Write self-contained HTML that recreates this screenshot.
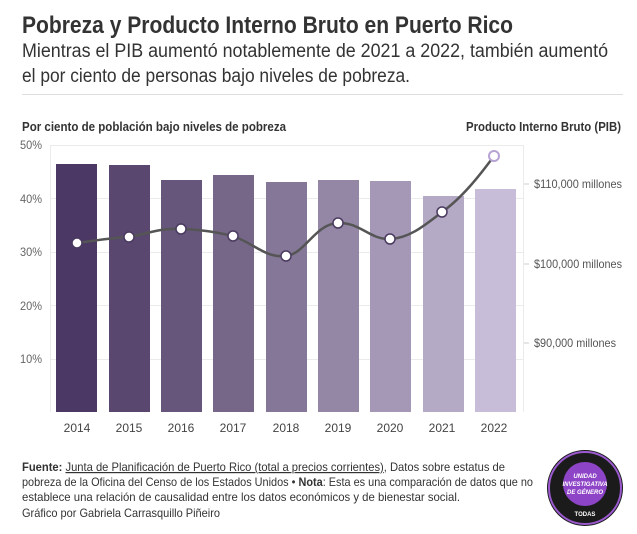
<!DOCTYPE html>
<html><head><meta charset="utf-8"><style>
html,body{margin:0;padding:0;background:#fff;}
svg{display:block;font-family:"Liberation Sans",sans-serif;}
</style></head><body>
<svg width="637" height="534" viewBox="0 0 637 534">
<text x="22" y="33" font-size="24" font-weight="bold" fill="#333" textLength="491" lengthAdjust="spacingAndGlyphs">Pobreza y Producto Interno Bruto en Puerto Rico</text>
<text x="22" y="57" font-size="19" fill="#333" textLength="586" lengthAdjust="spacingAndGlyphs">Mientras el PIB aumentó notablemente de 2021 a 2022, también aumentó</text>
<text x="22" y="82" font-size="19" fill="#333" textLength="388" lengthAdjust="spacingAndGlyphs">el por ciento de personas bajo niveles de pobreza.</text>
<line x1="22" y1="94.5" x2="623" y2="94.5" stroke="#ddd" stroke-width="1"/>
<text x="22" y="131" font-size="13" font-weight="bold" fill="#333" textLength="264" lengthAdjust="spacingAndGlyphs">Por ciento de población bajo niveles de pobreza</text>
<text x="621" y="131" font-size="13" font-weight="bold" fill="#333" text-anchor="end" textLength="155" lengthAdjust="spacingAndGlyphs">Producto Interno Bruto (PIB)</text>
<g stroke="#ebebeb" stroke-width="1">
<line x1="50" y1="145.5" x2="523" y2="145.5"/>
<line x1="50" y1="198.5" x2="523" y2="198.5"/>
<line x1="50" y1="252.5" x2="523" y2="252.5"/>
<line x1="50" y1="305.5" x2="523" y2="305.5"/>
<line x1="50" y1="359.5" x2="523" y2="359.5"/>
<line x1="50.5" y1="145" x2="50.5" y2="412"/>
<line x1="523.5" y1="145" x2="523.5" y2="412"/>
</g>
<g font-size="12" fill="#666" text-anchor="end">
<text x="42" y="149" textLength="22" lengthAdjust="spacingAndGlyphs">50%</text><text x="42" y="203" textLength="22" lengthAdjust="spacingAndGlyphs">40%</text><text x="42" y="256" textLength="22" lengthAdjust="spacingAndGlyphs">30%</text><text x="42" y="310" textLength="22" lengthAdjust="spacingAndGlyphs">20%</text><text x="42" y="363" textLength="22" lengthAdjust="spacingAndGlyphs">10%</text>
</g>
<g>
<rect x="56" y="164" width="41" height="248" fill="#4b3864"/>
<rect x="109" y="165" width="41" height="247" fill="#59476f"/>
<rect x="161" y="180" width="41" height="232" fill="#67567b"/>
<rect x="213" y="175" width="41" height="237" fill="#766789"/>
<rect x="266" y="182" width="41" height="230" fill="#857797"/>
<rect x="318" y="180" width="41" height="232" fill="#9487a6"/>
<rect x="370" y="181" width="41" height="231" fill="#a498b6"/>
<rect x="423" y="196" width="41" height="216" fill="#b5aac6"/>
<rect x="475" y="189" width="41" height="223" fill="#c7bdd9"/>
</g>
<path d="M77,243 C100,240 110,238 129,237 C150,233 160,228 181,229 C205,230 215,232 233,236 C255,244 265,258 286,256 C305,254 315,224 338,223 C360,222 370,240 390,239 C410,238 425,225 442,212 C462,198 480,175 494,156" fill="none" stroke="#555" stroke-width="2.5"/>
<g fill="#fff" stroke="#4a3a60" stroke-width="1.5">
<circle cx="77" cy="243" r="5"/><circle cx="129" cy="237" r="5"/><circle cx="181" cy="229" r="5"/><circle cx="233" cy="236" r="5"/><circle cx="286" cy="256" r="5"/><circle cx="338" cy="223" r="5"/><circle cx="390" cy="239" r="5"/><circle cx="442" cy="212" r="5"/>
</g>
<circle cx="494" cy="156" r="5" fill="#fff" stroke="#b6a3d4" stroke-width="2"/>
<g stroke="#ccc"><line x1="524" y1="184" x2="529" y2="184"/><line x1="524" y1="264" x2="529" y2="264"/><line x1="524" y1="343" x2="529" y2="343"/></g>
<g font-size="12" fill="#555">
<text x="534" y="188" textLength="88" lengthAdjust="spacingAndGlyphs">$110,000 millones</text><text x="534" y="268" textLength="88" lengthAdjust="spacingAndGlyphs">$100,000 millones</text><text x="534" y="347" textLength="82" lengthAdjust="spacingAndGlyphs">$90,000 millones</text>
</g>
<g font-size="12" fill="#444" text-anchor="middle">
<text x="77" y="432">2014</text><text x="129" y="432">2015</text><text x="181" y="432">2016</text><text x="233" y="432">2017</text><text x="286" y="432">2018</text><text x="338" y="432">2019</text><text x="390" y="432">2020</text><text x="442" y="432">2021</text><text x="494" y="432">2022</text>
</g>
<g font-size="12" fill="#333">
<text x="22" y="471" textLength="483" lengthAdjust="spacingAndGlyphs"><tspan font-weight="bold">Fuente:</tspan> <tspan text-decoration="underline">Junta de Planificación de Puerto Rico (total a precios corrientes)</tspan>, Datos sobre estatus de</text>
<text x="22" y="486" textLength="511" lengthAdjust="spacingAndGlyphs">pobreza de la Oficina del Censo de los Estados Unidos • <tspan font-weight="bold">Nota</tspan>: Esta es una comparación de datos que no</text>
<text x="22" y="501" textLength="438" lengthAdjust="spacingAndGlyphs">establece una relación de causalidad entre los datos económicos y de bienestar social.</text>
<text x="22" y="517" textLength="198" lengthAdjust="spacingAndGlyphs">Gráfico por Gabriela Carrasquillo Piñeiro</text>
</g>
<circle cx="585" cy="488" r="38" fill="#1b1b1b"/>
<circle cx="585" cy="488" r="36" fill="none" stroke="#9b59d0" stroke-width="2"/>
<circle cx="585" cy="484" r="22" fill="#8e44c7"/>
<g font-size="6" font-weight="bold" fill="#fff" text-anchor="middle" font-style="italic">
<text x="585" y="478">UNIDAD</text><text x="585" y="486">INVESTIGATIVA</text><text x="585" y="494">DE GÉNERO</text>
<text x="585" y="516" font-style="normal">TODAS</text>
</g>
</svg>
</body></html>
